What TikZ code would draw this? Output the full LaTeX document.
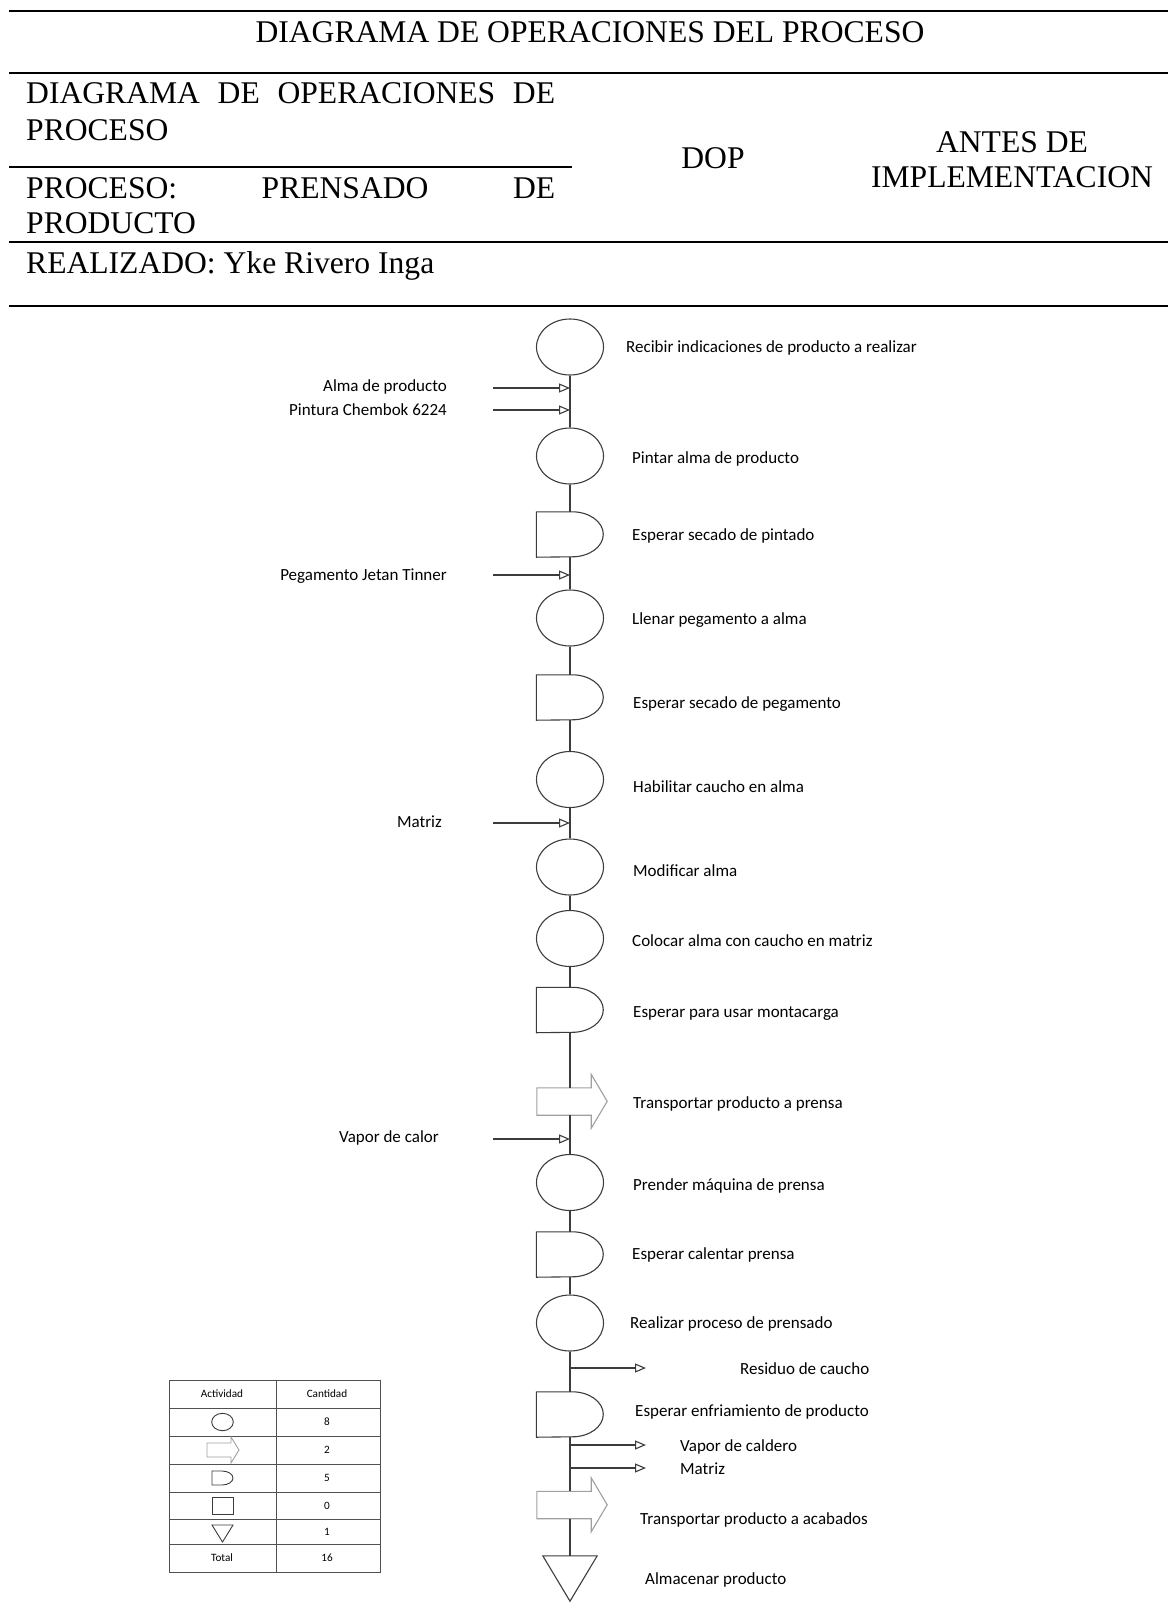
\documentclass[tikz,border=0pt]{standalone}
\usepackage{fontspec}
\setmainfont{Liberation Serif}
\newfontfamily\calfont{Carlito}
\usetikzlibrary{arrows.meta,shapes.geometric}
\definecolor{ln}{HTML}{3C3C3C}
\definecolor{mvc}{HTML}{A0A0A0}
\definecolor{tabc}{HTML}{505050}
\newcommand\drawwait[1]{\draw[conn] (#1.south west) -- (#1.north west) -- ([xshift=36pt]#1.north west) arc[start angle=90,end angle=-90,x radius=31pt,y radius=22.5pt] -- cycle;}
\newcommand\drawmove[1]{\draw[mv] (#1.north west) -- (#1.north east) -- ++(0,-13.5) -- ++(16,27) -- ++(-16,27) -- (#1.south east) -- (#1.south west) -- cycle;}
\newcommand\drawstore[1]{\draw[conn] (#1.north west) -- (#1.north east) -- (#1.south) -- cycle;}
\begin{document}
\begin{tikzpicture}[x=1pt,y=-1pt,
  hdr/.style={font=\fontsize{31.6}{36}\selectfont, inner sep=0pt},
  rule/.style={line width=2pt, draw=black},
  lbl/.style={font=\calfont\fontsize{17}{20}\selectfont, inner sep=0pt, anchor=base west},
  inlbl/.style={lbl, anchor=base east},
  conn/.style={draw=ln, line width=1.1pt},
  mv/.style={draw=mvc, line width=1.1pt},
  inarr/.style={conn, -{Triangle[open,length=11pt,width=9pt]}},
  opbox/.style={ellipse, draw=ln, line width=1.1pt, minimum width=67pt, minimum height=56pt, inner sep=0pt},
  waitbox/.style={inner sep=0pt, minimum width=67pt, minimum height=45pt},
  movebox/.style={inner sep=0pt, minimum width=54pt, minimum height=27pt},
  storebox/.style={inner sep=0pt, minimum width=54pt, minimum height=45pt},
  tab/.style={draw=tabc, line width=1pt},
  tabtxt/.style={font=\calfont\fontsize{11.2}{13}\selectfont, inner sep=0pt, text=black}
]
\useasboundingbox (0,0) rectangle (1168,1610);
% header rules
\draw[rule] (9,11) -- (1168,11);
\draw[rule] (9,72.7) -- (1168,72.7);
\draw[rule] (9,166.7) -- (572,166.7);
\draw[rule] (9,241.7) -- (1168,241.7);
\draw[rule] (9,306) -- (1168,306);
% header texts
\node[hdr, anchor=base] (title) at (590,42) {DIAGRAMA DE OPERACIONES DEL PROCESO};
\node[hdr, anchor=base west] (h1a) at (26,103) {\hbox to 529pt{DIAGRAMA\hfill DE\hfill OPERACIONES\hfill DE}};
\node[hdr, anchor=base west] (h1b) at (26,140) {PROCESO};
\node[hdr, anchor=base west] (h2a) at (26,198) {\hbox to 529pt{PROCESO:\hfill PRENSADO\hfill DE}};
\node[hdr, anchor=base west] (h2b) at (26,233) {PRODUCTO};
\node[hdr, anchor=base west] (h3) at (26,273) {REALIZADO: Yke Rivero Inga};
\node[hdr, anchor=base] (dop) at (713,168) {DOP};
\node[hdr, anchor=base] (ant1) at (1012,152) {ANTES DE};
\node[hdr, anchor=base] (ant2) at (1012,187) {IMPLEMENTACION};
% flow nodes
\node[opbox] (c1) at (570,347) {};
\node[opbox] (c2) at (570,456) {};
\node[waitbox] (d1) at (570,534.5) {};
\node[opbox] (c3) at (570,618) {};
\node[waitbox] (d2) at (570,697.5) {};
\node[opbox] (c4) at (570,779.5) {};
\node[opbox] (c5) at (570,867) {};
\node[opbox] (c6) at (570,938.5) {};
\node[waitbox] (d3) at (570,1010) {};
\node[movebox] (t1) at (564,1101.5) {};
\node[opbox] (c7) at (570,1182.5) {};
\node[waitbox] (d4) at (570,1254.5) {};
\node[opbox] (c8) at (570,1323) {};
\node[waitbox] (d5) at (570,1414.5) {};
\node[movebox] (t2) at (564,1505) {};
\node[storebox] (s1) at (570,1578.5) {};
\drawwait{d1}\drawwait{d2}\drawwait{d3}\drawwait{d4}\drawwait{d5}
\drawmove{t1}\drawmove{t2}
\drawstore{s1}
% spine
\draw[conn] (c1.south) -- (c2.north);
\draw[conn] (c2.south) -- (d1.north);
\draw[conn] (d1.south) -- (c3.north);
\draw[conn] (c3.south) -- (d2.north);
\draw[conn] (d2.south) -- (c4.north);
\draw[conn] (c4.south) -- (c5.north);
\draw[conn] (c5.south) -- (c6.north);
\draw[conn] (c6.south) -- (d3.north);
\draw[conn] (d3.south) -- (d3.south |- t1.north);
\draw[conn] (c7.north |- t1.south) -- (c7.north);
\draw[conn] (c7.south) -- (d4.north);
\draw[conn] (d4.south) -- (c8.north);
\draw[conn] (c8.south) -- (d5.north);
\draw[conn] (d5.south) -- (d5.south |- t2.north);
\draw[conn] (s1.north |- t2.south) -- (s1.north);
% input arrows
\coordinate (sA) at (493,388); \coordinate (eA) at (570,388);
\coordinate (sB) at (493,410); \coordinate (eB) at (570,410);
\coordinate (sC) at (493,575); \coordinate (eC) at (570,575);
\coordinate (sD) at (493,823); \coordinate (eD) at (570,823);
\coordinate (sE) at (493,1139); \coordinate (eE) at (570,1139);
\draw[inarr] (sA) -- (eA);
\draw[inarr] (sB) -- (eB);
\draw[inarr] (sC) -- (eC);
\draw[inarr] (sD) -- (eD);
\draw[inarr] (sE) -- (eE);
\node[inlbl] (lA) at (447,391) {Alma de producto};
\node[inlbl] (lB) at (447,415) {Pintura Chembok 6224};
\node[inlbl] (lC) at (447,580) {Pegamento Jetan Tinner};
\node[inlbl] (lD) at (442,827) {Matriz};
\node[inlbl] (lE) at (439,1142) {Vapor de calor};
% output arrows
\coordinate (oR) at (570,1368); \coordinate (fR) at (646,1368);
\coordinate (oV) at (570,1445); \coordinate (fV) at (646,1445);
\coordinate (oM) at (570,1468); \coordinate (fM) at (646,1468);
\draw[inarr] (oR) -- (fR);
\draw[inarr] (oV) -- (fV);
\draw[inarr] (oM) -- (fM);
% step labels
\node[lbl] (r1) at (626,352) {Recibir indicaciones de producto a realizar};
\node[lbl] (r2) at (632,463) {Pintar alma de producto};
\node[lbl] (r3) at (632,540) {Esperar secado de pintado};
\node[lbl] (r4) at (632,624) {Llenar pegamento a alma};
\node[lbl] (r5) at (633,708) {Esperar secado de pegamento};
\node[lbl] (r6) at (633,792) {Habilitar caucho en alma};
\node[lbl] (r7) at (633,876) {Modificar alma};
\node[lbl] (r8) at (632,946) {Colocar alma con caucho en matriz};
\node[lbl] (r9) at (633,1017) {Esperar para usar montacarga};
\node[lbl] (r10) at (633,1108) {Transportar producto a prensa};
\node[lbl] (r11) at (633,1190) {Prender máquina de prensa};
\node[lbl] (r12) at (632,1259) {Esperar calentar prensa};
\node[lbl] (r13) at (630,1328) {Realizar proceso de prensado};
\node[lbl] (r14) at (740,1374) {Residuo de caucho};
\node[lbl] (r15) at (635,1416) {Esperar enfriamiento de producto};
\node[lbl] (r16) at (680,1451) {Vapor de caldero};
\node[lbl] (r17) at (680,1474) {Matriz};
\node[lbl] (r18) at (640,1524) {Transportar producto a acabados};
\node[lbl] (r19) at (645,1584) {Almacenar producto};
% legend table
\draw[tab] (169,1380) rectangle (380,1572);
\draw[tab] (276,1380) -- (276,1572);
\foreach \yy in {1408,1436,1464,1492,1519,1544} {\draw[tab] (169,\yy) -- (380,\yy);}
\node[tabtxt] (ta) at (222,1394) {Actividad};
\node[tabtxt] (tc) at (327,1394) {Cantidad};
\node[tabtxt] (n1) at (327,1422) {8};
\node[tabtxt] (n2) at (327,1450) {2};
\node[tabtxt] (n3) at (327,1478) {5};
\node[tabtxt] (n4) at (327,1505.5) {0};
\node[tabtxt] (n5) at (327,1531.5) {1};
\node[tabtxt] (tt) at (222,1558) {Total};
\node[tabtxt] (n6) at (327,1558) {16};
\draw[conn, line width=0.9pt] (222.5,1422) ellipse [x radius=10.8pt, y radius=8.7pt];
\draw[mv, line width=0.9pt] (207,1443) -- (231,1443) -- (231,1437) -- (239,1450) -- (231,1463) -- (231,1457) -- (207,1457) -- cycle;
\draw[conn, line width=0.9pt] (212,1485) -- (212,1471) -- (222,1471) arc[start angle=90,end angle=-90,x radius=11pt,y radius=7pt] -- cycle;
\draw[conn, line width=0.9pt] (212,1497) rectangle (233,1514);
\draw[conn, line width=0.9pt] (212,1525) -- (233,1525) -- (222.5,1542) -- cycle;
\end{tikzpicture}
\end{document}
